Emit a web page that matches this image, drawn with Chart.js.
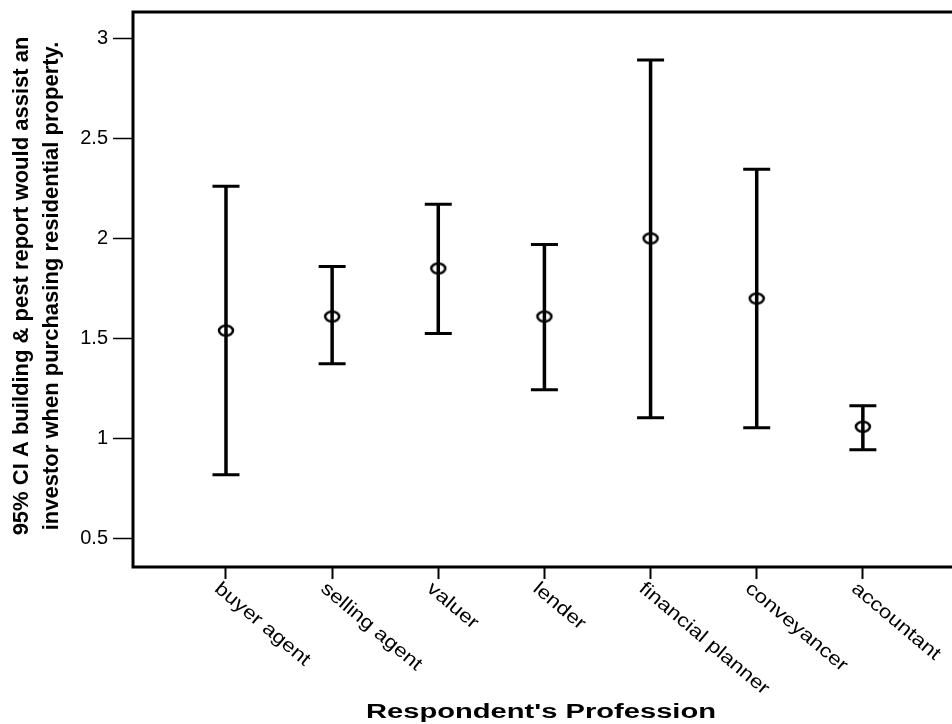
<!DOCTYPE html>
<html>
<head>
<meta charset="utf-8">
<script src="https://cdn.jsdelivr.net/npm/chart.js@4"></script>
<style>
  html, body { margin: 0; padding: 0; background: #fff; overflow: hidden; }
  #wrap { width: 952px; height: 724px; }
</style>
</head>
<body>
<div id="wrap"><canvas id="myChart"></canvas></div>
<script>
const categories = ["buyer agent", "selling agent", "valuer", "lender", "financial planner", "conveyancer", "accountant"];
const means = [1.54, 1.61, 1.85, 1.61, 2.0, 1.7, 1.06];
const upper = [2.26, 1.86, 2.17, 1.97, 2.89, 2.345, 1.165];
const lower = [0.82, 1.375, 1.525, 1.245, 1.105, 1.055, 0.945];
const yTicks = [0.5, 1, 1.5, 2, 2.5, 3];
const yTitle = ["95% CI A building & pest report would assist an", "investor when purchasing residential property."];
const xTitle = "Respondent's Profession";

// hollow ellipse marker
const marker = document.createElement("canvas");
marker.width = 22;
marker.height = 16;
const mctx = marker.getContext("2d");
mctx.strokeStyle = "#000";
mctx.lineWidth = 2.5;
mctx.beginPath();
mctx.ellipse(11, 8, 7, 5, 0, 0, Math.PI * 2);
mctx.stroke();

const errorBars = {
    id: "errorBars",
    beforeDatasetsDraw(chart) {
        const ctx = chart.ctx;
        const x = chart.scales.x;
        const y = chart.scales.y;
        ctx.save();
        ctx.strokeStyle = "#000";
        ctx.lineCap = "butt";
        categories.forEach((c, i) => {
            const px = x.getPixelForValue(i);
            const top = y.getPixelForValue(upper[i]);
            const bot = y.getPixelForValue(lower[i]);
            ctx.lineWidth = 3.5;
            ctx.beginPath();
            ctx.moveTo(px, top);
            ctx.lineTo(px, bot);
            ctx.stroke();
            ctx.lineWidth = 3;
            ctx.beginPath();
            ctx.moveTo(px - 13.5, top);
            ctx.lineTo(px + 13.5, top);
            ctx.moveTo(px - 13.5, bot);
            ctx.lineTo(px + 13.5, bot);
            ctx.stroke();
        });
        ctx.restore();
    },
};

const frameAndText = {
    id: "frameAndText",
    afterDraw(chart) {
        const ctx = chart.ctx;
        const a = chart.chartArea;
        const x = chart.scales.x;
        ctx.save();
        // frame
        ctx.strokeStyle = "#000";
        ctx.lineWidth = 3;
        ctx.beginPath();
        ctx.moveTo(chart.width, a.top);
        ctx.lineTo(a.left, a.top);
        ctx.lineTo(a.left, a.bottom);
        ctx.lineTo(chart.width, a.bottom);
        ctx.stroke();

        ctx.fillStyle = "#000";
        // x tick labels, rotated clockwise
        ctx.font = "19px 'Liberation Sans', Arial, sans-serif";
        ctx.textAlign = "left";
        ctx.textBaseline = "top";
        categories.forEach((c, i) => {
            const px = x.getPixelForValue(i);
            ctx.save();
            ctx.translate(px - 3, a.bottom + 12);
            ctx.rotate(40 * Math.PI / 180);
            ctx.scale(1.18, 1);
            ctx.fillText(c, 0, 0);
            ctx.restore();
        });

        // x title
        ctx.font = "bold 20px 'Liberation Sans', Arial, sans-serif";
        ctx.textAlign = "center";
        ctx.textBaseline = "alphabetic";
        const w = ctx.measureText(xTitle).width;
        ctx.save();
        ctx.translate((a.left + a.right) / 2 + 3, 718);
        ctx.scale(350 / w, 1);
        ctx.fillText(xTitle, 0, 0);
        ctx.restore();

        // y title, two lines
        ctx.font = "bold 22px 'Liberation Sans', Arial, sans-serif";
        ctx.save();
        ctx.translate(0, 286);
        ctx.rotate(-Math.PI / 2);
        ctx.fillText(yTitle[0], 0, 28);
        ctx.fillText(yTitle[1], 0, 58);
        ctx.restore();
        ctx.restore();
    },
};

const ctx1 = document.getElementById("myChart");

new Chart(ctx1, {
    type: "scatter",
    data: {
        datasets: [
            {
                label: "mean",
                data: means.map((m, i) => ({ x: i, y: m })),
                pointStyle: marker,
                pointRadius: 8,
                showLine: false,
            },
        ],
    },
    options: {
        responsive: true,
        maintainAspectRatio: false,
        animation: false,
        events: [],
        layout: {
            padding: { top: 12, left: 0, right: 0, bottom: 0 },
        },
        plugins: {
            legend: { display: false },
            tooltip: { enabled: false },
        },
        scales: {
            x: {
                type: "linear",
                min: -0.876,
                max: 6.755,
                afterBuildTicks: (s) => {
                    s.ticks = categories.map((c, i) => ({ value: i }));
                },
                afterFit: (s) => {
                    s.height = 157;
                    s.paddingLeft = 0;
                    s.paddingRight = 0;
                },
                ticks: { display: false },
                grid: {
                    drawOnChartArea: false,
                    tickLength: 12,
                    tickWidth: 2,
                    tickColor: "#000",
                },
                border: { display: false },
            },
            y: {
                min: 0.36,
                max: 3.13,
                afterBuildTicks: (s) => {
                    s.ticks = yTicks.map((v) => ({ value: v }));
                },
                afterFit: (s) => {
                    s.width = 133;
                    s.paddingTop = 0;
                    s.paddingBottom = 0;
                },
                ticks: {
                    color: "#000",
                    padding: 5,
                    font: { family: "'Liberation Sans', Arial, sans-serif", size: 20 },
                    callback: (v) => String(v),
                },
                grid: {
                    drawOnChartArea: false,
                    tickLength: 20,
                    tickWidth: 1.5,
                    tickColor: "#000",
                },
                border: { display: false },
            },
        },
    },
    plugins: [errorBars, frameAndText],
});
</script>
</body>
</html>
